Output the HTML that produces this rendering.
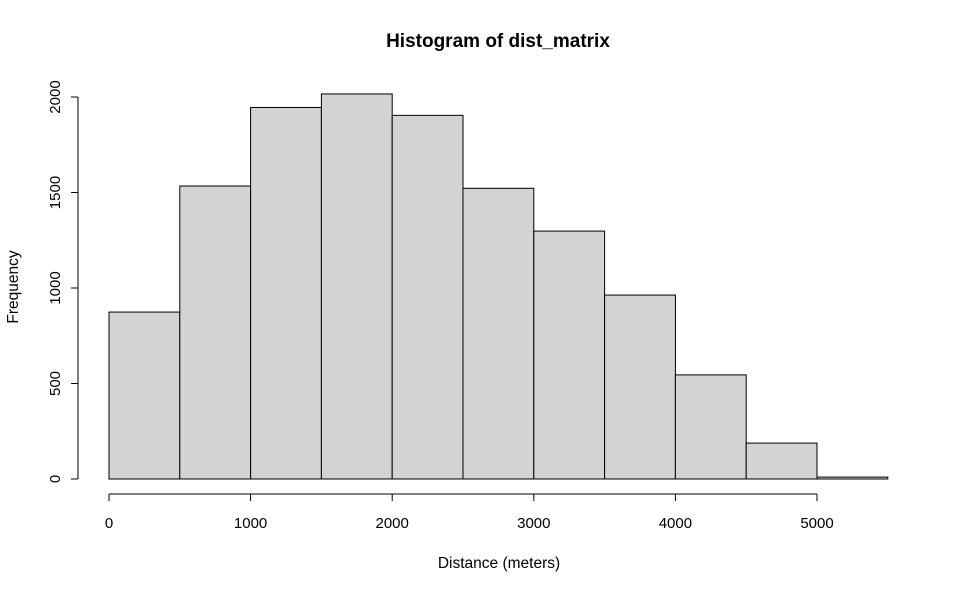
<!DOCTYPE html>
<html><head><meta charset="utf-8"><style>
body{margin:0;background:#fff}
svg text{font-family:"Liberation Sans",sans-serif;fill:#000}
</style></head><body>
<svg id="chart" width="960" height="593" viewBox="0 0 960 593">
<text x="498" y="47" text-anchor="middle" font-size="19" font-weight="bold">Histogram of dist_matrix</text>
<text x="499" y="568" text-anchor="middle" font-size="15.5">Distance (meters)</text>
<text transform="translate(18,287) rotate(-90)" text-anchor="middle" font-size="15.5">Frequency</text>
<g id="bars"></g><g id="axes"></g>
</svg>
<script>
const binStarts=[0,500,1000,1500,2000,2500,3000,3500,4000,4500,5000];
const binWidth=500;
const counts=[874,1534,1945,2016,1904,1522,1298,963,545,188,10];
const xTicks=[0,1000,2000,3000,4000,5000];
const yTicks=[0,500,1000,1500,2000];
const NS="http://www.w3.org/2000/svg";
const xs=v=>109+v*(817-109)/5000;
const ys=v=>479-v*(479-97)/2000;
function mk(tag,attrs,parent){const e=document.createElementNS(NS,tag);for(const k in attrs)e.setAttribute(k,attrs[k]);parent.appendChild(e);return e;}
const bars=document.getElementById('bars'),axes=document.getElementById('axes');
counts.forEach((c,i)=>{
 const x0=xs(binStarts[i]),x1=xs(binStarts[i]+binWidth);
 const r=mk('rect',{x:x0,y:ys(c),width:x1-x0,height:ys(0)-ys(c),fill:'#d3d3d3',stroke:'#000','stroke-width':1},bars);
 
 
});
const xa=mk('line',{x1:xs(xTicks[0]),x2:xs(xTicks[xTicks.length-1]),y1:494,y2:494,stroke:'#000'},axes);


xTicks.forEach(t=>{
 mk('line',{x1:xs(t),x2:xs(t),y1:494,y2:501,stroke:'#000'},axes);
 const tx=mk('text',{x:xs(t),y:528,'text-anchor':'middle','font-size':15},axes);tx.textContent=t;
 
 
});
const ya=mk('line',{x1:78,x2:78,y1:ys(yTicks[0]),y2:ys(yTicks[yTicks.length-1]),stroke:'#000'},axes);


yTicks.forEach(t=>{
 mk('line',{x1:71,x2:78,y1:ys(t),y2:ys(t),stroke:'#000'},axes);
 const tx=mk('text',{transform:`translate(60,${ys(t)}) rotate(-90)`,'text-anchor':'middle','font-size':15},axes);tx.textContent=t;
 
 
});
</script>
</body></html>
